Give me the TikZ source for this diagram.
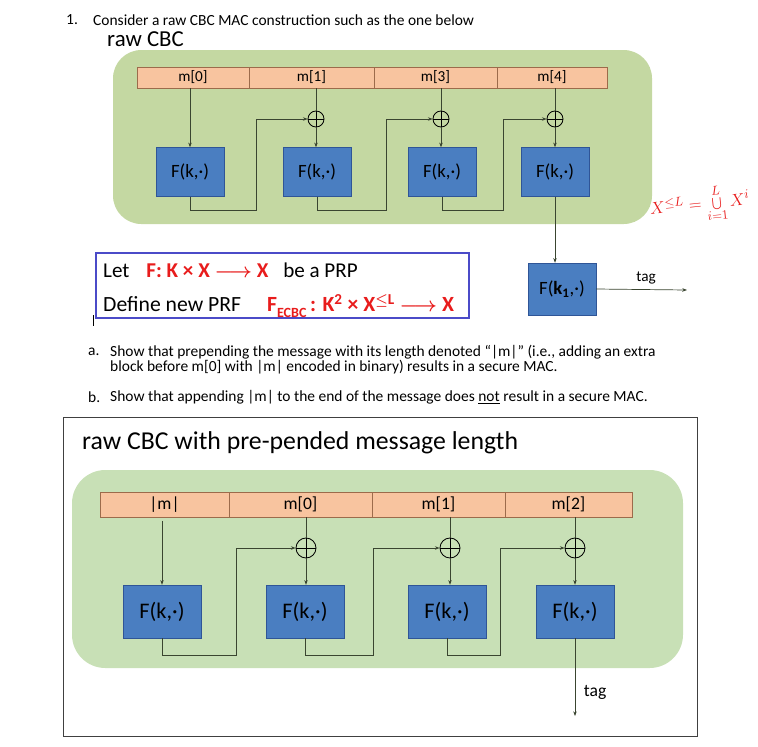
\documentclass[tikz,border=0pt]{standalone}
\usepackage{fontspec}
\setmainfont{Carlito}
\usetikzlibrary{arrows.meta,calc,positioning}
\definecolor{leaf}{HTML}{C4D8A2}
\definecolor{leaflight}{HTML}{C8E0B6}
\definecolor{peach}{HTML}{F8C49F}
\definecolor{peachedge}{HTML}{9C6B4B}
\definecolor{block}{HTML}{4A7EC1}
\definecolor{blockedge}{HTML}{2F5597}
\definecolor{wire}{HTML}{3A4530}
\definecolor{frameblue}{HTML}{4B4BC8}
\definecolor{accent}{HTML}{E81C1C}

\begin{document}
\begin{tikzpicture}[x=0.03cm,y=-0.03cm,>={Stealth[length=4pt,width=3pt]},
  cell/.style={draw=peachedge,fill=peach,inner sep=0pt,font=\fontsize{13}{15}\selectfont},
  prf/.style={draw=blockedge,fill=block,inner sep=0pt,minimum width=2.04cm,minimum height=1.47cm,font=\fontsize{16}{18}\selectfont},
  bigprf/.style={prf,minimum width=2.34cm,minimum height=1.59cm,font=\fontsize{19}{21}\selectfont},
  xor/.style={circle,draw,line width=0.7pt,inner sep=0pt,minimum size=0.48cm,
    path picture={\draw[line width=0.7pt] (path picture bounding box.north) -- (path picture bounding box.south)
      (path picture bounding box.west) -- (path picture bounding box.east);}},
  link/.style={draw=wire,line width=0.6pt},
  txt/.style={anchor=west,inner sep=0pt,font=\fontsize{13.2}{15}\selectfont}]
  \useasboundingbox (0,0) rectangle (758,746);

  % question text
  \node[txt] (num) at (66,20) {1.};
  \node[txt] (ask) at (93,20) {Consider a raw CBC MAC construction such as the one below};
  \node[txt,font=\fontsize{19.5}{21}\selectfont] (toptitle) at (107,39) {raw CBC};

  % raw CBC
  \fill[leaf,rounded corners=0.85cm] (113,50) rectangle (652,224);
  \foreach \a/\b/\t/\n in {137/249/{m[0]}/ta0,249/374/{m[1]}/ta1,374/497/{m[3]}/ta2,497/607/{m[4]}/ta3}
    \node[cell,minimum width={(\b-\a)*0.03cm},minimum height=0.63cm] (\n) at ({(\a+\b)/2},77.5) {\t};
  \foreach \x/\n in {190/tf0,317/tf1,442/tf2,555/tf3}
    \node[prf] (\n) at (\x,172) {F(k,·)};
  \foreach \x/\n in {316/tx1,441/tx2,555/tx3}
    \node[xor] (\n) at (\x,119) {};
  \draw[link,->] (tf0.north |- ta0.south) -- (tf0.north);
  \foreach \i in {1,2,3} {
    \draw[link] (tx\i.north |- ta\i.south) -- (tx\i.north);
    \draw[link,->] (tx\i.south) -- (tx\i.south |- tf\i.north);
  }
  \draw[link,->] (tf0.south) |- (256,210) |- (tx1.west);
  \draw[link,->] (tf1.south) |- (386,210) |- (tx2.west);
  \draw[link,->] (tf2.south) |- (503,210) |- (tx3.west);
  \node[prf,minimum height=1.56cm] (tk) at (562,289) {F(\textbf{k\textsubscript{1}},·)};
  \draw[link,->] (tf3.south) -- (tf3.south |- tk.north);
  \coordinate (tagend) at (687,290);
  \draw[link,->] (tk.east) -- (tagend) node[pos=0.55,above=1pt,font=\fontsize{13}{15}\selectfont] {tag};
  \node[accent,rotate=6,font=\fontsize{15}{17}\selectfont] (union) at (700,205) {$X^{\le L}=\bigcup\limits_{i=1}^{L}X^{i}$};

  % definition box
  \draw[frameblue,line width=1pt] (96,253) rectangle (469,318);
  \node[txt,font=\fontsize{18}{20}\selectfont] (letline) at (103,270)
    {Let\hspace{0.8em}\textcolor{accent}{\textbf{F: K × X {\boldmath$\longrightarrow$} X}}\hspace{0.7em}be a PRP};
  \node[txt,font=\fontsize{18.5}{20}\selectfont] (defline) at (103,306)
    {Define new PRF\hspace{1.2em}\textcolor{accent}{\textbf{F\raisebox{-0.6ex}{\fontsize{12}{12}\selectfont ECBC}\,: K\textsuperscript{2} × X\textsuperscript{\boldmath$\le$L} {\boldmath$\longrightarrow$} X}}};
  \draw[line width=0.5pt] (93,315) -- (93,326);

  \node[txt] (qa) at (88,352) {a.};
  \node[txt] (qatext) at (110,352) {Show that prepending the message with its length denoted “|m|” (i.e., adding an extra};
  \node[txt] (qatext2) at (110,367) {block before m[0] with |m| encoded in binary) results in a secure MAC.};
  \node[txt] (qb) at (88,397) {b.};
  \node[txt] (qbtext) at (110,397) {Show that appending |m| to the end of the message does \underline{not} result in a secure MAC.};

  % raw CBC with length block
  \draw[black!75,line width=0.8pt] (63,417) rectangle (697,736);
  \node[txt,font=\fontsize{22}{24}\selectfont] (bottitle) at (82,443) {raw CBC with pre-pended message length};
  \fill[leaflight,rounded corners=1cm] (72,470) rectangle (683,668);
  \foreach \a/\b/\t/\n in {100/229/{|m|}/ba0,229/372/{m[0]}/ba1,372/505/{m[1]}/ba2,505/632/{m[2]}/ba3}
    \node[cell,minimum width={(\b-\a)*0.03cm},minimum height=0.75cm,font=\fontsize{15}{17}\selectfont] (\n) at ({(\a+\b)/2},504.5) {\t};
  \foreach \x/\n in {162/bf0,305/bf1,447/bf2,575/bf3}
    \node[bigprf] (\n) at (\x,611.5) {F(k,·)};
  \foreach \x/\n in {306/bx1,450/bx2,575/bx3}
    \node[xor,minimum size=0.6cm] (\n) at (\x,548) {};
  \draw[link,->,shorten <=3pt] (bf0.north |- ba0.south) -- (bf0.north);
  \foreach \i in {1,2,3} {
    \draw[link] (bx\i.north |- ba\i.south) -- (bx\i.north);
    \draw[link,->] (bx\i.south) -- (bx\i.south |- bf\i.north);
  }
  \draw[link,->] (bf0.south) |- (236,655) |- (bx1.west);
  \draw[link,->] (bf1.south) |- (373,655) |- (bx2.west);
  \draw[link,->] (bf2.south) |- (500,655) |- (bx3.west);
  \coordinate (btag) at (575,716);
  \draw[link,->] (bf3.south) -- (btag) node[pos=0.7,right=4pt,font=\fontsize{15}{17}\selectfont] {tag};
\end{tikzpicture}
\end{document}
